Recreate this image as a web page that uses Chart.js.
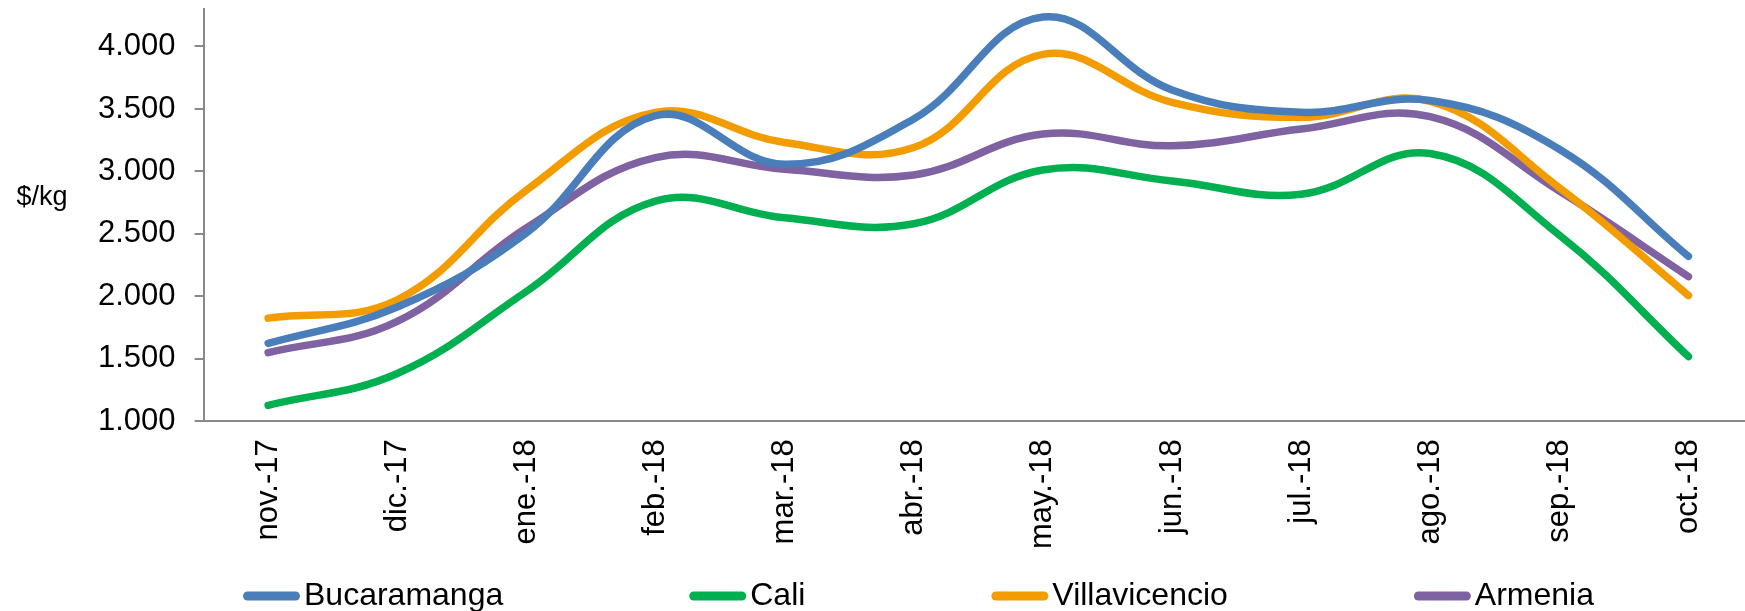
<!DOCTYPE html>
<html>
<head>
<meta charset="utf-8">
<script src="https://cdn.jsdelivr.net/npm/chart.js@4.4.1/dist/chart.umd.min.js"></script>
<style>
  html, body { margin: 0; padding: 0; background: #fff; overflow: hidden; }
  /* plot runs a few pixels past the right edge, as in the original */
  #wrap { width: 1753px; height: 611px; position: relative; }
</style>
</head>
<body>
<div id="wrap"><canvas id="chart"></canvas></div>
<script>
// Months on the x axis
const months = ['nov.-17', 'dic.-17', 'ene.-18', 'feb.-18', 'mar.-18', 'abr.-18',
                'may.-18', 'jun.-18', 'jul.-18', 'ago.-18', 'sep.-18', 'oct.-18'];

// Price per kg, one array per city
const bucaramanga   = [1624, 1915, 2508, 3446, 3058, 3420, 4236, 3652, 3473, 3567, 3178, 2320];
const cali          = [1128, 1383, 2039, 2763, 2629, 2581, 3012, 2924, 2817, 3143, 2490, 1518];
const villavicencio = [1826, 1973, 2850, 3473, 3231, 3191, 3937, 3553, 3433, 3561, 2870, 2007];
const armenia       = [1549, 1800, 2548, 3111, 3018, 2972, 3299, 3205, 3339, 3438, 2843, 2158];

const seriesNames  = ['Bucaramanga', 'Cali', 'Villavicencio', 'Armenia'];
const seriesColors = ['#4A7EBB', '#00B050', '#F39C00', '#7E62A1'];

// y axis range and tick values
const yMin = 1000;
const yMax = 4300;
const yTicks = [1000, 1500, 2000, 2500, 3000, 3500, 4000];
const yTitle = '$/kg';

const FONT = '"Liberation Sans", Arial, sans-serif';
const AXIS_GREY = '#898989';

function formatThousands(v) {
  return String(v).replace(/\B(?=(\d{3})+(?!\d))/g, '.');
}

// Horizontal "$/kg" label left of the y axis
const yTitlePlugin = {
  id: 'yTitle',
  afterDraw(chart) {
    const ctx = chart.ctx;
    ctx.save();
    ctx.font = '27px ' + FONT;
    ctx.fillStyle = '#000';
    ctx.textAlign = 'center';
    ctx.textBaseline = 'middle';
    ctx.fillText(yTitle, 42, 198);
    ctx.restore();
  }
};

// Legend with line swatches spread along the bottom like the original
const lineLegendPlugin = {
  id: 'lineLegend',
  afterDraw(chart) {
    const ctx = chart.ctx;
    const y = 596;
    const gap = 186;
    let x = 243;
    ctx.save();
    ctx.font = '32px ' + FONT;
    ctx.textBaseline = 'middle';
    ctx.textAlign = 'left';
    chart.data.datasets.forEach(ds => {
      ctx.strokeStyle = ds.borderColor;
      ctx.lineWidth = 9;
      ctx.lineCap = 'round';
      ctx.beginPath();
      ctx.moveTo(x + 4.5, y);
      ctx.lineTo(x + 52.5, y);
      ctx.stroke();
      ctx.fillStyle = '#000';
      ctx.fillText(ds.label, x + 61, y);
      x += 61 + ctx.measureText(ds.label).width + gap;
    });
    ctx.restore();
  }
};

const seriesData = [bucaramanga, cali, villavicencio, armenia];

const ctx = document.getElementById('chart').getContext('2d');
const myChart = new Chart(ctx, {
  type: 'line',
  data: {
    labels: months,
    datasets: seriesNames.map((name, i) => ({
      label: name,
      data: seriesData[i],
      borderColor: seriesColors[i],
      backgroundColor: seriesColors[i],
      borderWidth: 7.5,
      borderCapStyle: 'round',
      borderJoinStyle: 'round',
      pointRadius: 0,
      tension: 0.4,
      fill: false
    }))
  },
  options: {
    responsive: true,
    maintainAspectRatio: false,
    animation: false,
    layout: {
      padding: { left: 79, right: 0, top: 9, bottom: 44 }
    },
    plugins: {
      legend: { display: false },
      tooltip: { enabled: false }
    },
    scales: {
      x: {
        offset: true,
        grid: { display: false, drawTicks: false },
        border: { display: true, color: AXIS_GREY, width: 2 },
        ticks: {
          color: '#000',
          font: { family: FONT, size: 31 },
          minRotation: 90,
          maxRotation: 90,
          padding: 18,
          autoSkip: false
        }
      },
      y: {
        min: yMin,
        max: yMax,
        grid: {
          drawOnChartArea: false,
          drawTicks: true,
          tickLength: 9,
          color: AXIS_GREY,
          lineWidth: 2
        },
        border: { display: true, color: AXIS_GREY, width: 2 },
        afterBuildTicks(scale) {
          scale.ticks = yTicks.map(v => ({ value: v }));
        },
        // top tick sits well below the axis end, so no room is needed for its label
        afterFit(scale) {
          scale.paddingTop = 0;
        },
        ticks: {
          color: '#000',
          font: { family: FONT, size: 31 },
          padding: 19,
          callback: v => formatThousands(v)
        }
      }
    }
  },
  plugins: [yTitlePlugin, lineLegendPlugin]
});
</script>
</body>
</html>
